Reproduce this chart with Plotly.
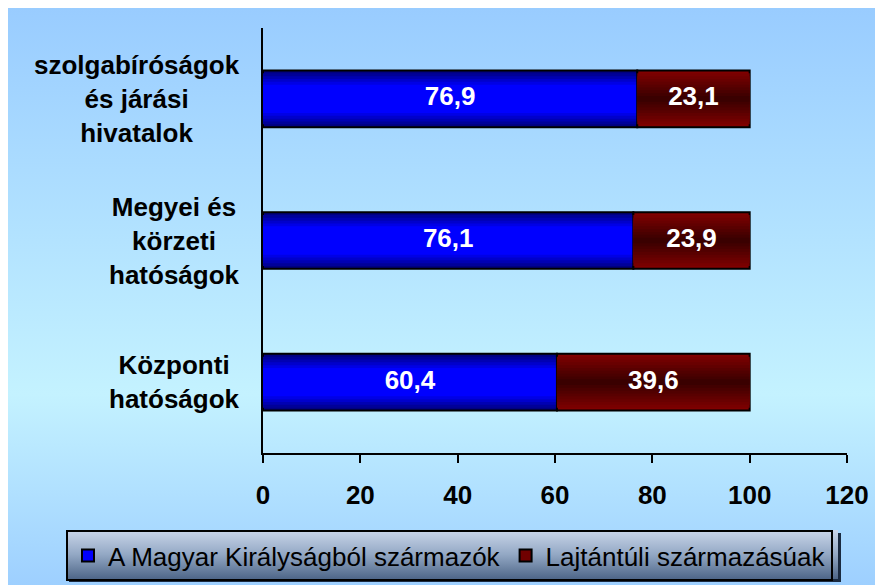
import base64
import plotly.graph_objects as go

# ---- data ----
categories = ["Központi<br>hatóságok", "Megyei és<br>körzeti<br>hatóságok", "szolgabíróságok<br>és járási<br>hivatalok"]
hungarian = [60.4, 76.1, 76.9]
lajtantuli = [39.6, 23.9, 23.1]
series_names = ["A Magyar Királyságból származók", "Lajtántúli származásúak"]
x_ticks = [0, 20, 40, 60, 80, 100, 120]

W, H = 883, 585
OFF = 8  # page body margin
L, T = 263 - OFF, 28 - OFF
R = W - (847 - OFF)
B = H - (453 - OFF)
pw, ph = W - L - R, H - T - B
FONT = "Liberation Sans, Arial"

def px2paper_x(px):
    return (px - L) / pw

def px2paper_y(py):
    return (H - B - py) / ph

def svg_uri(svg):
    return "data:image/svg+xml;base64," + base64.b64encode(svg.encode()).decode()

bg_svg = (
    '<svg xmlns="http://www.w3.org/2000/svg" width="100" height="100" viewBox="0 0 100 100" preserveAspectRatio="none">'
    '<defs><linearGradient id="g" x1="0" y1="0" x2="0" y2="1">'
    '<stop offset="0" stop-color="#99CCFF"/><stop offset="0.66" stop-color="#C4F2FF"/>'
    '<stop offset="1" stop-color="#9CCEFF"/></linearGradient></defs>'
    '<rect width="100" height="100" fill="url(#g)"/></svg>'
)
leg_svg = (
    '<svg xmlns="http://www.w3.org/2000/svg" width="100" height="100" viewBox="0 0 100 100" preserveAspectRatio="none">'
    '<defs><linearGradient id="g" x1="0" y1="0" x2="0" y2="1">'
    '<stop offset="0" stop-color="#CAD6EA"/><stop offset="0.5" stop-color="#93A8C4"/>'
    '<stop offset="1" stop-color="#4E6688"/></linearGradient></defs>'
    '<rect width="100" height="100" fill="url(#g)"/></svg>'
)

def lerp(c1, c2, t):
    a = [int(c1[i:i + 2], 16) for i in (1, 3, 5)]
    b = [int(c2[i:i + 2], 16) for i in (1, 3, 5)]
    return "rgb(%d,%d,%d)" % tuple(round(a[k] + (b[k] - a[k]) * t) for k in range(3))

fig = go.Figure()
N = 10
full_w = 0.4
styles = [
    (hungarian, [0] * len(hungarian), "#000080", "#0000FF", 1.8),
    (lajtantuli, hungarian, "#800000", "#3A0000", 1.0),
]
for vals, base, edge, center, speed in styles:
    for k in range(N):
        t = min(1.0, (k / (N - 1)) * speed)
        col = lerp(edge, center, t)
        fig.add_trace(go.Bar(
            y=categories, x=vals, base=base, orientation="h",
            width=full_w * (1 - k / N),
            marker=dict(color=col, line=dict(color="black", width=2 if k == 0 else 0)),
            showlegend=False, hoverinfo="skip",
        ))

# legend entries
fig.add_trace(go.Bar(y=[None], x=[None], orientation="h", name=series_names[0],
                     marker=dict(color="#0000FF", line=dict(color="black", width=2))))
fig.add_trace(go.Bar(y=[None], x=[None], orientation="h", name=series_names[1],
                     marker=dict(color="#700000", line=dict(color="black", width=2))))

fmt = lambda v: f"{v:.1f}".replace(".", ",")
fig.add_trace(go.Scatter(
    y=categories + categories,
    x=[v / 2 for v in hungarian] + [h + v / 2 for h, v in zip(hungarian, lajtantuli)],
    text=[fmt(v) for v in hungarian] + [fmt(v) for v in lajtantuli],
    mode="text", textposition="middle center",
    textfont=dict(family=FONT, size=26, color="white", weight="bold"),
    showlegend=False, hoverinfo="skip", cliponaxis=False,
))

for c in categories:
    fig.add_annotation(
        x=0, xref="paper", y=c, yref="y", text=c, showarrow=False,
        xanchor="right", xshift=-21, align="center",
        font=dict(family=FONT, size=26, color="black", weight="bold"),
    )

fig.add_layout_image(dict(
    source=svg_uri(bg_svg), xref="paper", yref="paper",
    x=px2paper_x(0), y=px2paper_y(0), sizex=W / pw, sizey=H / ph,
    sizing="stretch", layer="below", xanchor="left", yanchor="top",
))
# legend box (figure coords)
LX, LY, LW, LH = 58, 522, 772, 49
fig.add_layout_image(dict(
    source=svg_uri('<svg xmlns="http://www.w3.org/2000/svg" width="10" height="10" viewBox="0 0 10 10" preserveAspectRatio="none"><rect width="10" height="10" fill="#1a2a40"/></svg>'),
    xref="paper", yref="paper",
    x=px2paper_x(LX + 3), y=px2paper_y(LY + 3), sizex=LW / pw, sizey=LH / ph,
    sizing="stretch", layer="above", xanchor="left", yanchor="top",
))
fig.add_layout_image(dict(
    source=svg_uri(leg_svg), xref="paper", yref="paper",
    x=px2paper_x(LX), y=px2paper_y(LY), sizex=LW / pw, sizey=LH / ph,
    sizing="stretch", layer="above", xanchor="left", yanchor="top",
))

fig.update_layout(
    width=W, height=H,
    margin=dict(l=L, r=R, t=T, b=B, autoexpand=False),
    paper_bgcolor="white", plot_bgcolor="rgba(0,0,0,0)",
    barmode="overlay", bargap=0.6,
    font=dict(family=FONT, color="black"),
    xaxis=dict(range=[0, 120], tickvals=x_ticks, ticks="outside", ticklen=8, tickwidth=2,
               tickcolor="black", showline=True, linecolor="black", linewidth=2,
               showgrid=False, zeroline=False, ticklabelstandoff=10, automargin=False,
               tickfont=dict(family=FONT, size=26, color="black", weight="bold")),
    yaxis=dict(type="category", categoryorder="array", categoryarray=categories,
               range=[-0.5, 2.5], showticklabels=False, showline=True, linecolor="black",
               linewidth=2, showgrid=False, zeroline=False, ticks="", automargin=False),
    legend=dict(orientation="h", x=px2paper_x(LX), xanchor="left", y=px2paper_y(LY), yanchor="top",
                bgcolor="rgba(0,0,0,0)", bordercolor="black", borderwidth=2,
                font=dict(family=FONT, size=26, color="black"),
                itemsizing="constant", tracegroupgap=0, itemclick=False),
    showlegend=True,
)

fig.write_html("out.html")
